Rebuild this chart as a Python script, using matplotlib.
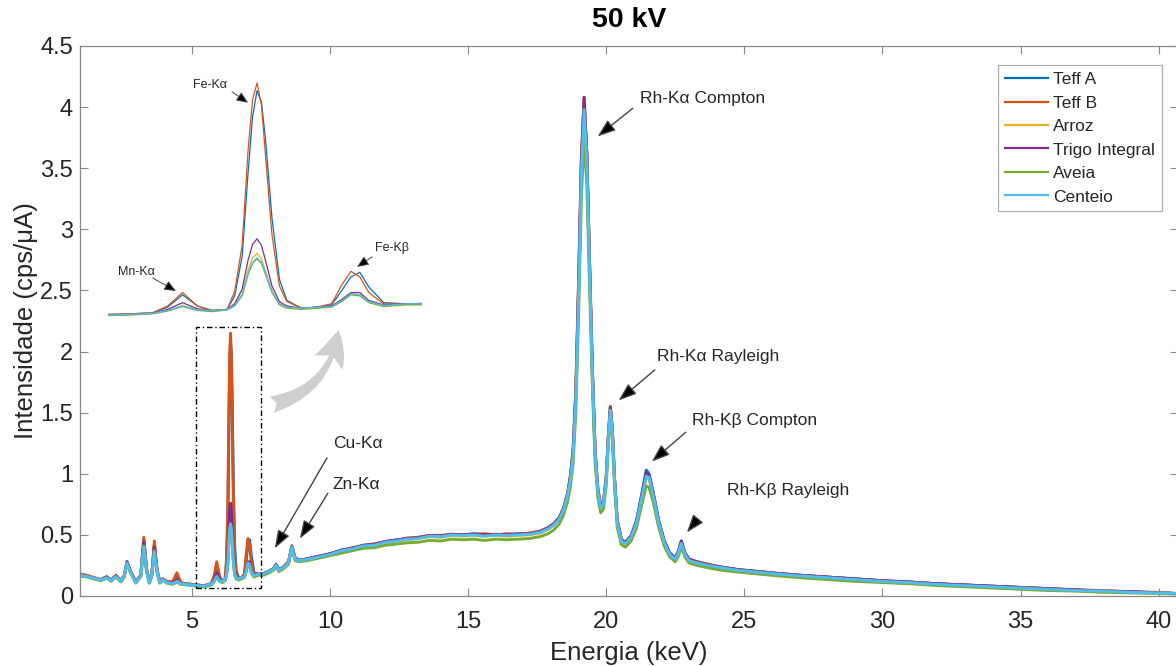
import matplotlib
matplotlib.use("Agg")
import matplotlib.pyplot as plt
from matplotlib.patches import Rectangle, FancyArrowPatch, ArrowStyle

plt.rcParams['font.family'] = ['Liberation Sans', 'DejaVu Sans']

# ---------------------------------------------------------------- data
energy_kev = [
    0.95, 1.2, 1.45, 1.7, 1.92, 2.07, 2.25, 2.43, 2.55, 2.65, 2.78, 2.97, 3.15, 3.26,
    3.36, 3.46, 3.55, 3.64, 3.74, 3.84, 3.95, 4.1, 4.3, 4.46, 4.6, 4.8, 5.0,
    5.2, 5.4, 5.55, 5.7, 5.8, 5.9, 6.0, 6.1, 6.2,
    6.25, 6.3, 6.34, 6.37, 6.4, 6.43, 6.46, 6.5, 6.55, 6.6,
    6.7, 6.8, 6.9, 6.97, 7.03, 7.09, 7.15, 7.25, 7.4, 7.6,
    7.8, 7.95, 8.05, 8.15, 8.3, 8.5, 8.62, 8.74, 8.9, 9.2, 9.6, 10.0,
    10.4, 10.8, 11.2, 11.6, 12.0, 12.4, 12.8, 13.2, 13.6, 14.0, 14.4, 14.8, 15.2,
    15.6, 16.0, 16.4, 16.8, 17.2, 17.6, 17.9,
    18.1, 18.3, 18.45, 18.6, 18.7, 18.8, 18.9, 19.0, 19.1, 19.2, 19.3, 19.4, 19.5,
    19.6, 19.7, 19.8, 19.9, 20.0, 20.08, 20.15, 20.22, 20.3, 20.4, 20.55, 20.7, 20.9,
    21.1, 21.3, 21.45, 21.55, 21.7, 21.9, 22.1, 22.3, 22.5, 22.62, 22.72, 22.85, 23.0,
    23.3, 23.7, 24.2, 24.8, 25.5, 26.2, 27.0, 28.0, 29.0, 30.0, 31.0, 32.0, 33.0,
    34.0, 35.0, 36.0, 37.0, 38.0, 39.0, 40.0, 40.7,
]

teff_a = [
    0.18, 0.165, 0.15, 0.135, 0.155, 0.13, 0.165, 0.125, 0.165, 0.28, 0.2, 0.115, 0.17, 0.46,
    0.22, 0.115, 0.18, 0.42, 0.21, 0.115, 0.14, 0.115, 0.11, 0.17, 0.105, 0.1, 0.095,
    0.09, 0.085, 0.09, 0.1, 0.15, 0.26, 0.16, 0.12, 0.13,
    0.25, 0.6, 1.35, 1.85, 2.08, 1.98, 1.6, 0.95, 0.4, 0.21,
    0.14, 0.15, 0.17, 0.3, 0.42, 0.46, 0.33, 0.19, 0.18, 0.185,
    0.205, 0.225, 0.26, 0.215, 0.235, 0.28, 0.41, 0.31, 0.295, 0.305, 0.325, 0.345,
    0.375, 0.39, 0.415, 0.425, 0.445, 0.46, 0.47, 0.48, 0.495, 0.49, 0.505, 0.5, 0.51,
    0.5, 0.505, 0.5, 0.51, 0.51, 0.53, 0.56,
    0.59, 0.64, 0.71, 0.83, 0.97, 1.18, 1.65, 2.5, 3.5, 4.03, 3.6, 2.7, 1.85,
    1.18, 0.87, 0.74, 0.77, 0.97, 1.32, 1.55, 1.37, 0.97, 0.62, 0.46, 0.44, 0.49,
    0.62, 0.85, 1.03, 1.0, 0.85, 0.62, 0.45, 0.35, 0.31, 0.37, 0.45, 0.35, 0.3,
    0.28, 0.255, 0.235, 0.215, 0.2, 0.185, 0.17, 0.155, 0.14, 0.125, 0.11, 0.1, 0.09,
    0.08, 0.07, 0.06, 0.05, 0.04, 0.035, 0.025, 0.02,
]

teff_b = [
    0.18, 0.17, 0.15, 0.135, 0.16, 0.13, 0.17, 0.125, 0.165, 0.28, 0.2, 0.115, 0.17, 0.48,
    0.22, 0.115, 0.18, 0.45, 0.22, 0.115, 0.14, 0.12, 0.115, 0.19, 0.11, 0.1, 0.095,
    0.09, 0.085, 0.09, 0.1, 0.16, 0.28, 0.16, 0.12, 0.13,
    0.29, 0.7, 1.55, 2.0, 2.15, 1.95, 1.45, 0.8, 0.34, 0.2,
    0.14, 0.15, 0.18, 0.35, 0.47, 0.42, 0.28, 0.18, 0.18, 0.185,
    0.2, 0.225, 0.255, 0.21, 0.235, 0.28, 0.41, 0.31, 0.29, 0.305, 0.325, 0.345,
    0.37, 0.395, 0.41, 0.425, 0.445, 0.455, 0.475, 0.48, 0.495, 0.495, 0.505, 0.5, 0.505,
    0.51, 0.5, 0.51, 0.505, 0.515, 0.53, 0.56,
    0.59, 0.64, 0.72, 0.84, 0.98, 1.2, 1.7, 2.6, 3.6, 4.08, 3.6, 2.7, 1.85,
    1.18, 0.87, 0.74, 0.77, 0.98, 1.33, 1.55, 1.37, 0.96, 0.62, 0.46, 0.44, 0.49,
    0.61, 0.83, 0.99, 0.98, 0.84, 0.61, 0.45, 0.35, 0.31, 0.37, 0.44, 0.35, 0.3,
    0.28, 0.26, 0.235, 0.215, 0.2, 0.185, 0.17, 0.155, 0.14, 0.125, 0.115, 0.1, 0.09,
    0.08, 0.07, 0.06, 0.05, 0.045, 0.035, 0.03, 0.02,
]

arroz = [
    0.175, 0.16, 0.145, 0.13, 0.15, 0.125, 0.16, 0.12, 0.16, 0.27, 0.19, 0.11, 0.165, 0.42,
    0.21, 0.11, 0.17, 0.38, 0.2, 0.11, 0.135, 0.11, 0.1, 0.125, 0.1, 0.095, 0.09,
    0.085, 0.08, 0.085, 0.095, 0.12, 0.165, 0.125, 0.115, 0.13,
    0.17, 0.27, 0.48, 0.59, 0.63, 0.58, 0.46, 0.3, 0.18, 0.155,
    0.14, 0.145, 0.155, 0.21, 0.27, 0.26, 0.2, 0.165, 0.175, 0.18,
    0.2, 0.215, 0.245, 0.21, 0.225, 0.265, 0.39, 0.3, 0.285, 0.3, 0.32, 0.34,
    0.365, 0.385, 0.405, 0.415, 0.435, 0.45, 0.46, 0.47, 0.485, 0.48, 0.495, 0.49, 0.495,
    0.49, 0.495, 0.49, 0.495, 0.5, 0.515, 0.545,
    0.58, 0.63, 0.7, 0.82, 0.95, 1.16, 1.62, 2.5, 3.5, 4.04, 3.58, 2.66, 1.8,
    1.15, 0.85, 0.72, 0.75, 0.95, 1.3, 1.53, 1.35, 0.95, 0.6, 0.45, 0.43, 0.48,
    0.6, 0.81, 0.97, 0.96, 0.82, 0.6, 0.44, 0.34, 0.3, 0.36, 0.43, 0.34, 0.29,
    0.27, 0.25, 0.23, 0.21, 0.195, 0.18, 0.165, 0.15, 0.135, 0.12, 0.11, 0.095, 0.085,
    0.075, 0.065, 0.055, 0.045, 0.04, 0.03, 0.025, 0.02,
]

trigo_integral = [
    0.175, 0.16, 0.145, 0.13, 0.155, 0.125, 0.165, 0.12, 0.16, 0.28, 0.2, 0.115, 0.165, 0.44,
    0.21, 0.11, 0.17, 0.40, 0.2, 0.11, 0.135, 0.11, 0.105, 0.13, 0.1, 0.095, 0.09,
    0.085, 0.08, 0.085, 0.095, 0.13, 0.19, 0.135, 0.12, 0.13,
    0.18, 0.31, 0.57, 0.71, 0.76, 0.7, 0.55, 0.34, 0.2, 0.16,
    0.14, 0.15, 0.16, 0.22, 0.28, 0.28, 0.21, 0.17, 0.18, 0.18,
    0.2, 0.22, 0.25, 0.215, 0.23, 0.27, 0.4, 0.305, 0.29, 0.305, 0.325, 0.345,
    0.375, 0.39, 0.415, 0.42, 0.445, 0.455, 0.47, 0.475, 0.495, 0.49, 0.505, 0.5, 0.505,
    0.5, 0.505, 0.5, 0.505, 0.51, 0.525, 0.555,
    0.59, 0.64, 0.71, 0.83, 0.97, 1.18, 1.66, 2.55, 3.55, 4.08, 3.62, 2.7, 1.84,
    1.17, 0.86, 0.73, 0.76, 0.96, 1.31, 1.54, 1.36, 0.96, 0.61, 0.46, 0.44, 0.49,
    0.61, 0.84, 1.01, 0.99, 0.84, 0.61, 0.45, 0.35, 0.31, 0.37, 0.45, 0.35, 0.3,
    0.275, 0.255, 0.235, 0.215, 0.2, 0.185, 0.17, 0.155, 0.14, 0.125, 0.115, 0.1, 0.09,
    0.08, 0.07, 0.06, 0.05, 0.04, 0.035, 0.025, 0.02,
]

aveia = [
    0.165, 0.155, 0.14, 0.125, 0.145, 0.12, 0.155, 0.115, 0.155, 0.27, 0.19, 0.105, 0.16, 0.41,
    0.2, 0.105, 0.165, 0.37, 0.19, 0.105, 0.13, 0.105, 0.095, 0.115, 0.095, 0.09, 0.085,
    0.08, 0.075, 0.08, 0.09, 0.115, 0.155, 0.12, 0.11, 0.125,
    0.16, 0.25, 0.44, 0.54, 0.58, 0.54, 0.43, 0.28, 0.17, 0.14,
    0.13, 0.14, 0.15, 0.2, 0.26, 0.25, 0.19, 0.155, 0.17, 0.17,
    0.19, 0.21, 0.24, 0.2, 0.22, 0.26, 0.39, 0.29, 0.28, 0.29, 0.31, 0.33,
    0.35, 0.37, 0.39, 0.395, 0.415, 0.425, 0.435, 0.44, 0.455, 0.45, 0.465, 0.46, 0.465,
    0.455, 0.465, 0.46, 0.465, 0.47, 0.485, 0.51,
    0.54, 0.59, 0.66, 0.77, 0.89, 1.08, 1.5, 2.3, 3.25, 3.75, 3.35, 2.5, 1.7,
    1.08, 0.8, 0.68, 0.71, 0.9, 1.25, 1.48, 1.3, 0.9, 0.56, 0.42, 0.4, 0.45,
    0.56, 0.76, 0.9, 0.89, 0.77, 0.56, 0.41, 0.32, 0.28, 0.33, 0.4, 0.32, 0.27,
    0.25, 0.23, 0.21, 0.195, 0.18, 0.165, 0.15, 0.135, 0.12, 0.11, 0.1, 0.085, 0.075,
    0.065, 0.055, 0.045, 0.04, 0.03, 0.025, 0.02, 0.015,
]

centeio = [
    0.17, 0.16, 0.145, 0.13, 0.15, 0.125, 0.16, 0.12, 0.16, 0.27, 0.19, 0.11, 0.16, 0.40,
    0.2, 0.11, 0.17, 0.36, 0.2, 0.11, 0.135, 0.11, 0.1, 0.12, 0.1, 0.095, 0.09,
    0.085, 0.08, 0.085, 0.095, 0.12, 0.16, 0.125, 0.12, 0.13,
    0.165, 0.26, 0.45, 0.55, 0.59, 0.55, 0.44, 0.29, 0.18, 0.15,
    0.14, 0.15, 0.155, 0.21, 0.27, 0.26, 0.2, 0.165, 0.18, 0.18,
    0.2, 0.22, 0.25, 0.21, 0.23, 0.27, 0.4, 0.3, 0.29, 0.3, 0.32, 0.34,
    0.37, 0.385, 0.41, 0.415, 0.44, 0.45, 0.465, 0.47, 0.49, 0.485, 0.5, 0.495, 0.5,
    0.49, 0.5, 0.495, 0.5, 0.505, 0.52, 0.55,
    0.58, 0.63, 0.7, 0.82, 0.95, 1.15, 1.6, 2.45, 3.45, 3.98, 3.55, 2.65, 1.8,
    1.15, 0.85, 0.72, 0.75, 0.95, 1.3, 1.52, 1.35, 0.95, 0.6, 0.45, 0.43, 0.48,
    0.6, 0.82, 0.98, 0.97, 0.83, 0.6, 0.44, 0.34, 0.3, 0.36, 0.43, 0.34, 0.29,
    0.27, 0.25, 0.23, 0.21, 0.195, 0.18, 0.165, 0.15, 0.135, 0.12, 0.11, 0.095, 0.085,
    0.075, 0.065, 0.055, 0.045, 0.04, 0.03, 0.025, 0.02,
]

series_names = ["Teff A", "Teff B", "Arroz", "Trigo Integral", "Aveia", "Centeio"]
series_values = [teff_a, teff_b, arroz, trigo_integral, aveia, centeio]
series_colors = ["#0072BD", "#D95319", "#EDB120", "#7E2F8E", "#77AC30", "#4DBEEE"]

x_ticks = [5, 10, 15, 20, 25, 30, 35, 40]
y_ticks = [0, 0.5, 1, 1.5, 2, 2.5, 3, 3.5, 4, 4.5]

for vals in series_values:
    assert len(vals) == len(energy_kev)

# ---------------------------------------------------------------- figure
W, H = 1176, 666
fig = plt.figure(figsize=(W / 100, H / 100), dpi=100)
ax = fig.add_axes([80 / W, (H - 596) / H, (1178 - 80) / W, (596 - 46) / H])

axis_grey = "#8a8a8a"
text_dark = "#262626"

for name, vals, col in zip(series_names, series_values, series_colors):
    ax.plot(energy_kev, vals, color=col, lw=2.1, label=name, solid_joinstyle="round")

ax.set_xlim(0.95, 40.7)
ax.set_ylim(0, 4.5)
ax.set_xticks(x_ticks)
ax.set_xticklabels([f"{t:g}" for t in x_ticks])
ax.set_yticks(y_ticks)
ax.set_yticklabels([f"{t:g}" for t in y_ticks])
ax.tick_params(direction="in", length=6, width=0.8, color=axis_grey,
               labelsize=17, labelcolor=text_dark, top=True, right=True)
ax.tick_params(axis="x", pad=11)
ax.tick_params(axis="y", pad=5)
for sp in ax.spines.values():
    sp.set_color(axis_grey)
    sp.set_linewidth(0.9)

ax.set_xlabel("Energia (keV)", fontsize=18.5, color=text_dark, va="center")
ax.xaxis.set_label_coords(0.5, -(653 - 596) / 550)
ax.set_ylabel("Intensidade (cps/\u03bcA)", fontsize=18.5, color=text_dark, va="center")
ax.yaxis.set_label_coords(-(80 - 26) / 1098, 0.5)
ax.set_title("50 kV", fontsize=20.5, fontweight="bold", color="black",
             y=1 + (46 - 28) / 550, va="center")

leg = ax.legend(loc="upper right", bbox_to_anchor=(1162 / W, 1 - 65 / H),
                bbox_transform=fig.transFigure, borderaxespad=0, fontsize=12.5,
                frameon=True, fancybox=False, handlelength=2.5, handletextpad=0.3,
                labelspacing=0.48, borderpad=0.4)
leg.get_frame().set_edgecolor("#9a9a9a")
leg.get_frame().set_linewidth(0.9)
for line in leg.get_lines():
    line.set_linewidth(1.6)
for txt in leg.get_texts():
    txt.set_color(text_dark)


def pointer(axis, tail, tip, scale=20, hl=0.55, hw=0.2, lw=1.0):
    axis.annotate("", xy=tip, xytext=tail,
                  arrowprops=dict(arrowstyle=f"-|>,head_length={hl},head_width={hw}",
                                  facecolor="black", edgecolor="#444444", lw=lw,
                                  shrinkA=0, shrinkB=0, mutation_scale=scale))


label_kw = dict(fontsize=12.5, color=text_dark, ha="left", va="center")
ax.text(21.21, 4.07, "Rh-K\u03b1 Compton", **label_kw)
pointer(ax, (20.96, 3.99), (19.69, 3.76))
ax.text(21.83, 1.96, "Rh-K\u03b1 Rayleigh", **label_kw)
pointer(ax, (21.76, 1.85), (20.45, 1.6))
ax.text(23.1, 1.44, "Rh-K\u03b2 Compton", **label_kw)
pointer(ax, (22.88, 1.34), (21.65, 1.1))
ax.text(24.36, 0.86, "Rh-K\u03b2 Rayleigh", **label_kw)
pointer(ax, (23.28, 0.62), (22.92, 0.52))
ax.text(10.1, 1.25, "Cu-K\u03b1", **label_kw)
pointer(ax, (9.89, 1.13), (8.0, 0.39))
ax.text(10.1, 0.91, "Zn-K\u03b1", **label_kw)
pointer(ax, (9.92, 0.84), (8.91, 0.47))

# zoom window around the Mn/Fe lines
ax.add_patch(Rectangle((5.15, 0.065), 7.5 - 5.15, 2.2 - 0.065, fill=False,
                       ec="black", lw=1.0, ls=(0, (4, 2, 1, 2)), zorder=6))

# curved pointer towards the enlarged view
swoosh = FancyArrowPatch((7.8, 1.56), (10.32, 2.2),
                         arrowstyle=ArrowStyle.Fancy(head_length=0.65, head_width=0.6,
                                                     tail_width=0.32),
                         connectionstyle="arc3,rad=0.35", mutation_scale=38,
                         color="#cfcfcf", lw=0, zorder=1)
ax.add_patch(swoosh)

# ---------------------------------------------------------------- inset
ins = fig.add_axes([108 / W, (H - 322) / H, (422 - 108) / W, (322 - 65) / H])
for name, vals, col in zip(series_names, series_values, series_colors):
    ins.plot(energy_kev, vals, color=col, lw=0.9)
ins.set_xlim(5.40, 7.507)
ins.set_ylim(0.0175, 2.31)
ins.axis("off")
ins.patch.set_visible(False)

inset_kw = dict(fontsize=9, color=text_dark, ha="center", va="center")
ins.text(6.085, 2.134, "Fe-K\u03b1", **inset_kw)
pointer(ins, (6.232, 2.07), (6.34, 1.973), scale=10, hl=0.7, hw=0.3, lw=0.7)
ins.text(5.588, 0.464, "Mn-K\u03b1", **inset_kw)
pointer(ins, (5.70, 0.41), (5.856, 0.294), scale=10, hl=0.7, hw=0.3, lw=0.7)
ins.text(7.306, 0.678, "Fe-K\u03b2", **inset_kw)
pointer(ins, (7.172, 0.598), (7.071, 0.509), scale=10, hl=0.7, hw=0.3, lw=0.7)

fig.savefig("out.png", dpi=100)
